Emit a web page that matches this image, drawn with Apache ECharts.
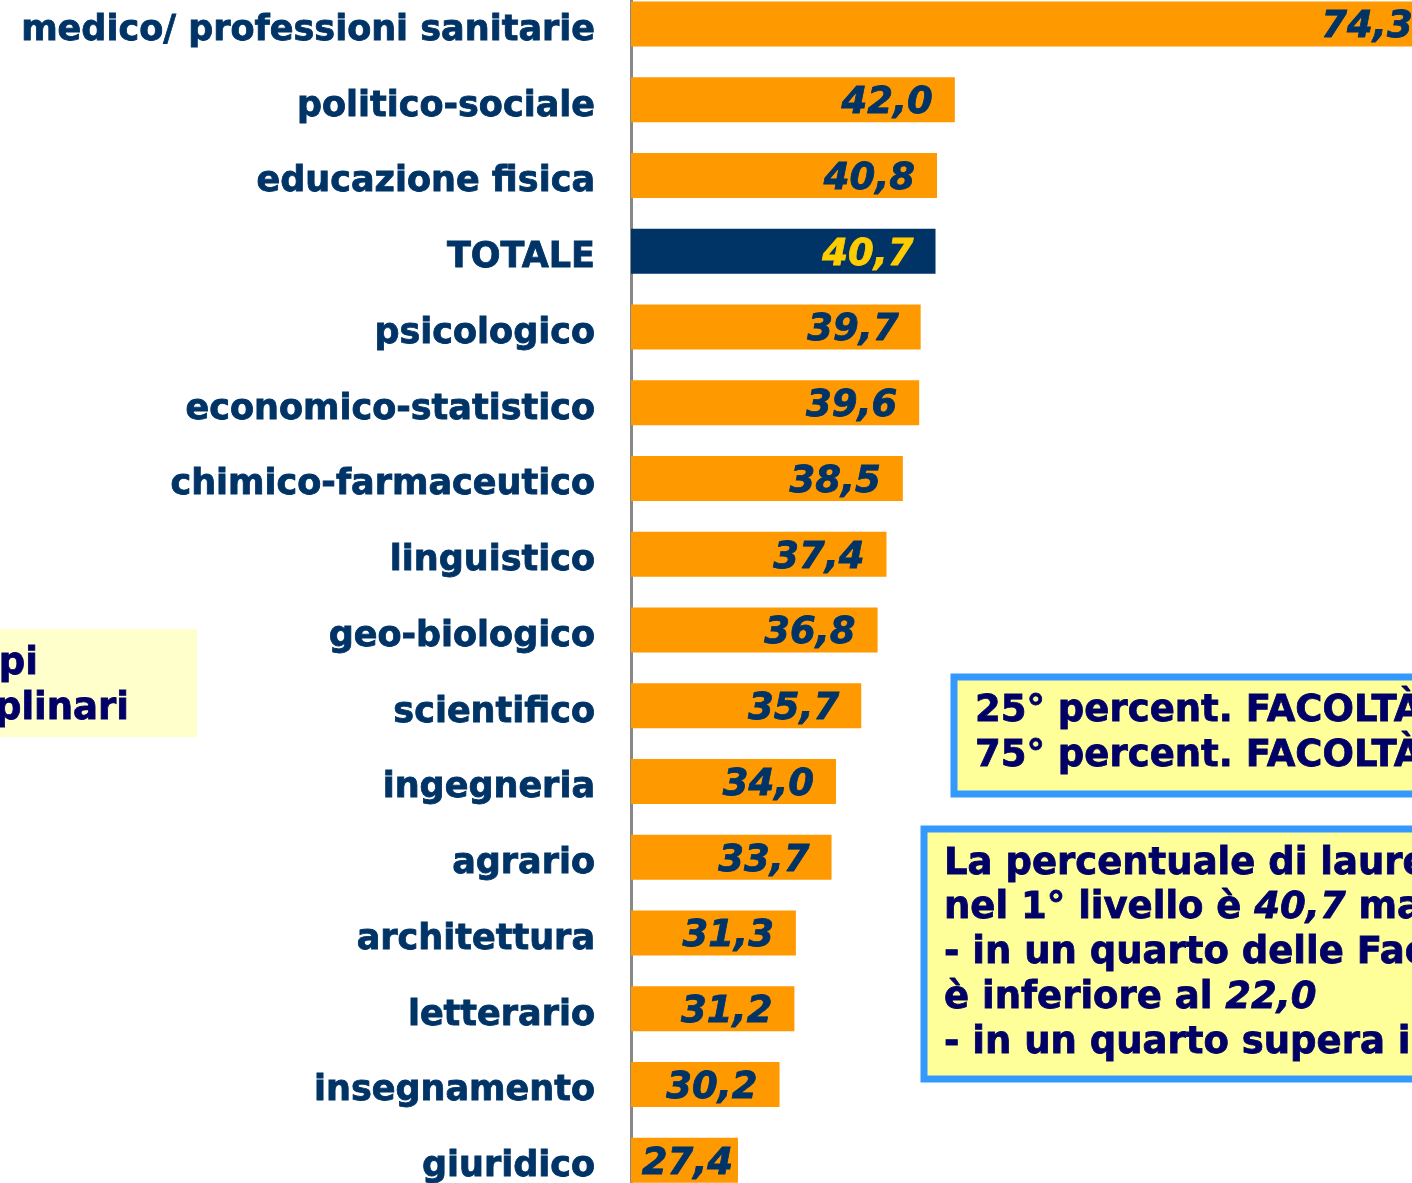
<!DOCTYPE html>
<html>
<head>
<meta charset="utf-8">
<script src="https://cdn.jsdelivr.net/npm/echarts@6/dist/echarts.min.js"></script>
<style>
    html, body { margin: 0; padding: 0; background: #fff; }
    #main { width: 1412px; height: 1183px; }
</style>
</head>
<body>
<div id="main"></div>
<script>
// gruppi disciplinari, dall'alto verso il basso
var categories = ['medico/ professioni sanitarie', 'politico-sociale', 'educazione fisica', 'TOTALE',
    'psicologico', 'economico-statistico', 'chimico-farmaceutico', 'linguistico', 'geo-biologico',
    'scientifico', 'ingegneria', 'agrario', 'architettura', 'letterario', 'insegnamento', 'giuridico'];
var values = [74.3, 42.0, 40.8, 40.7, 39.7, 39.6, 38.5, 37.4, 36.8, 35.7, 34.0, 33.7, 31.3, 31.2, 30.2, 27.4];
var totalName = 'TOTALE';

var FONT = '"DejaVu Sans", Verdana, sans-serif';
var NAVY = '#003366';
var INK = '#000066';
var BOX_FONT = 'bold 37px ' + FONT;

var seriesData = [];
for (var i = 0; i < categories.length; i++) {
    if (categories[i] == totalName) {
        seriesData.push({
            value: values[i],
            itemStyle: {color: NAVY},
            label: {color: '#FFCC00', textBorderColor: '#FFCC00'}
        });
    } else if (i == categories.length - 1) {
        // barra corta: l'etichetta si appoggia quasi al bordo
        seriesData.push({value: values[i], label: {distance: 5}});
    } else {
        seriesData.push(values[i]);
    }
}

function fmt(v) {
    return v.toFixed(1).replace('.', ',');
}

// testo "grassetto" un po' più pieno, come il Verdana dell'originale
function boxText(x, y, txt, align) {
    return {type: 'text', x: x, y: y, style: {text: txt, align: align || 'left', verticalAlign: 'middle',
        font: BOX_FONT, fill: INK, stroke: INK, lineWidth: 0.8}};
}
function richText(x, y, txt) {
    return {type: 'text', x: x, y: y, style: {
        text: txt, verticalAlign: 'middle',
        rich: {
            n: {font: BOX_FONT, fill: INK, stroke: INK, lineWidth: 0.8},
            i: {font: 'italic ' + BOX_FONT, fill: INK, stroke: INK, lineWidth: 0.8}
        }}};
}

var myChart = echarts.init(document.getElementById('main'));
myChart.setOption({
    animation: false,
    backgroundColor: '#ffffff',
    grid: {left: 631, right: -36, top: -14, bottom: -15, containLabel: false, outerBoundsMode: 'none'},
    xAxis: {
        type: 'value',
        min: 20.2,
        max: 75.2,
        show: false
    },
    yAxis: {
        type: 'category',
        inverse: true,
        data: categories,
        axisLine: {show: true, lineStyle: {color: '#888888', width: 3}},
        axisTick: {show: false},
        axisLabel: {
            margin: 36,
            formatter: function(v) { return '{c|' + v + '}'; },
            rich: {
                c: {
                    color: NAVY,
                    fontFamily: FONT,
                    fontWeight: 'bold',
                    fontSize: 35,
                    padding: [14, 0, 0, 0],
                    textBorderColor: NAVY,
                    textBorderWidth: 0.8
                }
            }
        }
    },
    series: [{
        type: 'bar',
        data: seriesData,
        barWidth: 45,
        itemStyle: {color: '#FF9900'},
        label: {
            show: true,
            position: 'insideRight',
            distance: 22,
            offset: [0, 4],
            color: NAVY,
            fontFamily: FONT,
            fontWeight: 'bold',
            fontStyle: 'italic',
            fontSize: 37,
            textBorderColor: NAVY,
            textBorderWidth: 0.8,
            formatter: function(p) { return fmt(p.value); }
        }
    }],
    graphic: [
        // riquadro a sinistra (tagliato)
        {type: 'rect', shape: {x: 0, y: 629, width: 197, height: 108}, style: {fill: '#FFFFCC'}},
        boxText(38, 664, 'Gruppi', 'right'),
        boxText(129, 709, 'disciplinari', 'right'),
        // percentili
        {type: 'rect', shape: {x: 954, y: 677, width: 600, height: 117},
            style: {fill: '#FFFF99', stroke: '#3399FF', lineWidth: 7}},
        boxText(975, 711, '25° percent. FACOLTÀ'),
        boxText(975, 756, '75° percent. FACOLTÀ'),
        // commento
        {type: 'rect', shape: {x: 924, y: 829, width: 600, height: 250},
            style: {fill: '#FFFF99', stroke: '#3399FF', lineWidth: 7}},
        boxText(944, 864, 'La percentuale di laureati'),
        richText(944, 908, '{n|nel 1° livello è }{i|40,7}{n| ma}'),
        boxText(944, 953, '- in un quarto delle Facoltà'),
        richText(944, 998, '{n|è inferiore al }{i|22,0}'),
        boxText(944, 1043, '- in un quarto supera il')
    ]
});
</script>
</body>
</html>
